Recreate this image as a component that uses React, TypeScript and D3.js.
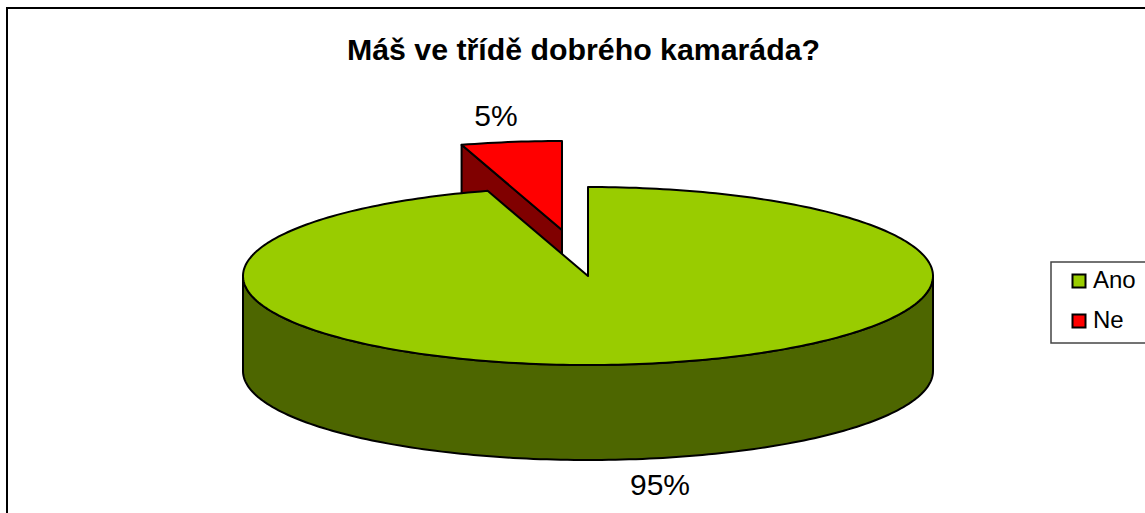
import React from "react";
import * as d3 from "d3";

const title = "Máš ve třídě dobrého kamaráda?";
const categories = ["Ano", "Ne"];
const values = [95.3, 4.7];
const labels = ["95%", "5%"];
const topColors = ["#99CC00", "#FF0000"];
const sideColors = ["#4D6600", "#800000"];

const W = 1145, H = 513;
const cx = 588, cy = 276, rx = 345, ry = 89, depth = 95;
const explode: [number, number][] = [[0, 0], [-26, -46]];

const pie = d3.pie<number>().sort(null).startAngle(0).endAngle(2 * Math.PI);
const arcs = pie(values);
const line = d3.line<[number, number]>().curve(d3.curveLinear);

const sx = d3.scaleLinear().domain([-1, 1]).range([cx - rx, cx + rx]);
const sy = d3.scaleLinear().domain([-1, 1]).range([cy - ry, cy + ry]);
const pt = (a: number): [number, number] => [sx(Math.sin(a)), sy(-Math.cos(a))];
const rim = (a0: number, a1: number): [number, number][] => {
  const n = Math.max(2, Math.ceil(Math.abs(a1 - a0) / 0.02));
  return d3.range(n + 1).map((i) => pt(a0 + ((a1 - a0) * i) / n));
};

const face = (i: number) => line([[cx, cy], ...rim(arcs[i].startAngle, arcs[i].endAngle)]) + "Z";
const wall = () => {
  const top = rim(Math.PI / 2, (3 * Math.PI) / 2);
  const bottom = top.map(([x, y]) => [x, y + depth] as [number, number]).reverse();
  return line([...top, ...bottom]) + "Z";
};
const cut = (i: number) => {
  const a = arcs[i].startAngle;
  const p = pt(a);
  return line([[cx, cy], p, [p[0], p[1] + depth], [cx, cy + depth]]) + "Z";
};

const legendY = [281, 321];

export default function App() {
  return (
    <svg width={W} height={H} style={{ position: "absolute", left: 0, top: 0, background: "#fff", fontFamily: "'Liberation Sans', Arial, sans-serif" }}>
      <rect x={7} y={8} width={W + 20} height={H + 20} fill="#fff" stroke="#000" strokeWidth={2} />
      <text x={583.5} y={60} textAnchor="middle" fontSize={30.3} fontWeight="bold" fill="#000" style={{ fontSize: 30.3 }}>{title}</text>

      <g transform={`translate(${explode[1][0]},${explode[1][1]})`} stroke="#000" strokeWidth={2} strokeLinejoin="round">
        <path d={cut(1)} fill={sideColors[1]} />
        <path d={face(1)} fill={topColors[1]} />
      </g>

      <g stroke="#000" strokeWidth={2} strokeLinejoin="round">
        <path d={wall()} fill={sideColors[0]} />
        <path d={face(0)} fill={topColors[0]} />
      </g>

      <text x={496} y={126} textAnchor="middle" fontSize={30} fill="#000">{labels[1]}</text>
      <text x={660} y={495} textAnchor="middle" fontSize={30} fill="#000">{labels[0]}</text>

      <rect x={1051} y={262} width={120} height={81} fill="#fff" stroke="#444" strokeWidth={1.5} />
      {categories.map((c, i) => (
        <g key={c}>
          <rect x={1072.5} y={legendY[i] - 6.5} width={13} height={13} fill={topColors[i]} stroke="#000" strokeWidth={2} />
          <text x={1093} y={legendY[i] + 7} fontSize={24} fill="#000">{c}</text>
        </g>
      ))}
    </svg>
  );
}
